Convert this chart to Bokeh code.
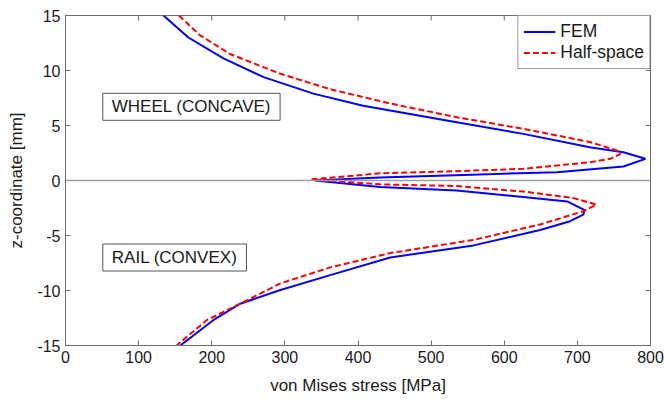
import math
from bokeh.plotting import figure
from bokeh.models import Span, Label, Legend, LegendItem, FixedTicker, PrintfTickFormatter
from bokeh.embed import file_html
from bokeh.resources import INLINE

# FEM (solid blue) path: von Mises stress [MPa] vs z-coordinate [mm]
fem_stress = [134, 168, 216, 271, 339, 407, 444, 535, 626, 717, 763, 793, 763, 672, 567, 430, 341,
              430, 535, 626, 686, 710, 708, 690, 649, 558, 444, 362, 294, 239, 202, 157]
fem_z = [15, 13, 11.1, 9.4, 7.9, 6.8, 6.36, 5.3, 4.24, 3.03, 2.57, 1.97, 1.27, 0.76, 0.55, 0.27, 0.0,
         -0.6, -0.9, -1.5, -1.9, -2.7, -3.1, -3.7, -4.5, -5.9, -7.0, -8.6, -9.95, -11.2, -12.7, -15.0]

# Half-space (dashed red) path
half_stress = [155, 184, 225, 294, 362, 444, 535, 626, 717, 754, 759, 745, 718, 626, 535, 430, 335,
               430, 535, 626, 695, 726, 708, 649, 558, 444, 362, 294, 239, 193, 152]
half_z = [15, 13.2, 11.5, 9.7, 8.3, 7.0, 5.75, 4.7, 3.5, 2.73, 2.42, 1.97, 1.67, 1.06, 0.85, 0.65, 0.1,
          -0.35, -0.5, -1.0, -1.6, -2.2, -2.8, -4.0, -5.4, -6.6, -7.9, -9.35, -11.2, -12.7, -15.0]

x_ticks = [0, 100, 200, 300, 400, 500, 600, 700, 800]
y_ticks = [-15, -10, -5, 0, 5, 10, 15]
X_MIN, X_MAX = 0, 800
Y_MIN, Y_MAX = -15, 15

FONT = "Liberation Sans"
AX = "#6e6e6e"
TXT = "#1a1a1a"

p = figure(width=664, height=399, x_range=(X_MIN, X_MAX), y_range=(Y_MIN, Y_MAX),
           output_backend="svg", toolbar_location=None,
           min_border_left=65, min_border_right=14, min_border_top=15, min_border_bottom=54)
p.xgrid.visible = False
p.ygrid.visible = False
p.outline_line_color = AX
p.outline_line_width = 1
p.background_fill_color = "white"

for ax, ticks, lab, stand in [(p.xaxis[0], x_ticks, "von Mises stress [MPa]", 10),
                              (p.yaxis[0], y_ticks, "z-coordinate [mm]", 8)]:
    ax.ticker = FixedTicker(ticks=ticks)
    ax.formatter = PrintfTickFormatter(format="%d")
    ax.axis_label = lab
    ax.axis_label_text_font = FONT
    ax.axis_label_text_font_style = "normal"
    ax.axis_label_text_font_size = "17px"
    ax.axis_label_text_color = TXT
    ax.major_label_text_font = FONT
    ax.major_label_text_font_size = "16px"
    ax.major_label_text_color = TXT
    ax.major_tick_in = 5
    ax.major_tick_out = 0
    ax.major_tick_line_color = AX
    ax.minor_tick_line_color = None
    ax.axis_line_color = AX
    ax.major_label_standoff = 5
    ax.axis_label_standoff = stand

# mirrored inner ticks on the top and right edges
p.ray(x=x_ticks, y=[Y_MAX] * len(x_ticks), length=5, length_units="screen",
      angle=-math.pi / 2, line_color=AX, line_width=1)
p.ray(x=[X_MAX] * len(y_ticks), y=y_ticks, length=5, length_units="screen",
      angle=math.pi, line_color=AX, line_width=1)

p.add_layout(Span(location=0, dimension="width", line_color="#a0a0a0", line_width=1.5))

r1 = p.line(fem_stress, fem_z, line_color="#0000ff", line_width=2)
r2 = p.line(half_stress, half_z, line_color="#ff0000", line_width=2, line_dash="6 3")

for txt, yv in [("WHEEL (CONCAVE)", 6.7), ("RAIL (CONVEX)", -7.0)]:
    p.add_layout(Label(x=51, y=yv, text=txt, text_font=FONT, text_font_size="17px",
                       text_color=TXT, text_baseline="middle", text_align="left",
                       border_line_color="#555555", border_line_width=1,
                       background_fill_color="white",
                       padding=dict(left=9, right=9, top=4, bottom=4)))

legend = Legend(items=[LegendItem(label="FEM", renderers=[r1]),
                       LegendItem(label="Half-space", renderers=[r2])],
                location="top_right", margin=0, padding=5, spacing=0,
                label_text_font=FONT, label_text_font_size="17.5px", label_text_color=TXT,
                glyph_width=32, glyph_height=19, label_height=19, label_standoff=5,
                border_line_color="#333333", border_line_width=1,
                background_fill_color="white", background_fill_alpha=1)
p.add_layout(legend)

open("out.html", "w").write(file_html(p, INLINE))
